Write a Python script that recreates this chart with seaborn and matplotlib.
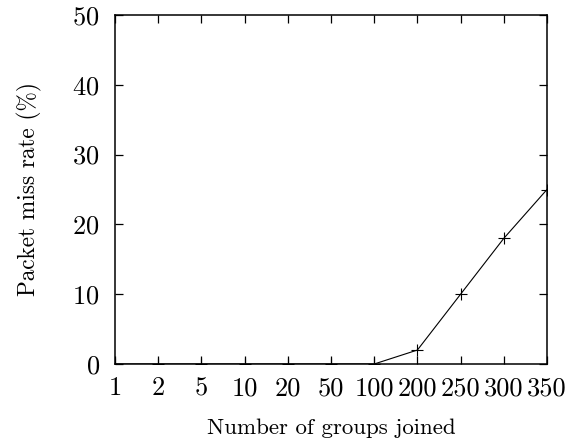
import numpy as np
import pandas as pd
import seaborn as sns
import matplotlib
matplotlib.use("Agg")
import matplotlib.pyplot as plt

# data
groups = ["1", "2", "5", "10", "20", "50", "100", "200", "250", "300", "350"]
miss_rate = [0, 0, 0, 0, 0, 0, 0, 2, 10, 18, 25]

df = pd.DataFrame({"pos": np.arange(len(groups)), "miss": miss_rate})

sns.set_style("ticks")
plt.rcParams["font.family"] = ["cmr10", "DejaVu Serif"]
plt.rcParams["mathtext.fontset"] = "cm"
plt.rcParams["axes.formatter.use_mathtext"] = True

fig = plt.figure(figsize=(5.67, 4.44), dpi=100)
ax = fig.add_axes([115 / 567, 1 - 364 / 444, 432 / 567, 349 / 444])

sns.lineplot(data=df, x="pos", y="miss", ax=ax, color="black", linewidth=0.8,
             marker="+", markersize=8, markeredgewidth=0.8, markeredgecolor="black")

ax.set_xlim(0, len(groups) - 1)
ax.set_ylim(0, 50)
ax.set_xticks(df["pos"])
ax.set_xticklabels(groups)
ax.set_yticks(range(0, 51, 10))

for s in ax.spines.values():
    s.set_visible(True)
    s.set_linewidth(1.1)
    s.set_color("black")
ax.tick_params(direction="in", length=6, width=0.9, top=True, right=True,
               labelsize=19, colors="black")
ax.tick_params(axis="x", pad=9)
ax.tick_params(axis="y", pad=11)
ax.set_xlabel("Number of groups joined", fontsize=16.5, labelpad=13, color="black")
ax.set_ylabel("Packet miss rate (%)", fontsize=16.8, labelpad=22, color="black")

fig.savefig("out.png", dpi=100)
